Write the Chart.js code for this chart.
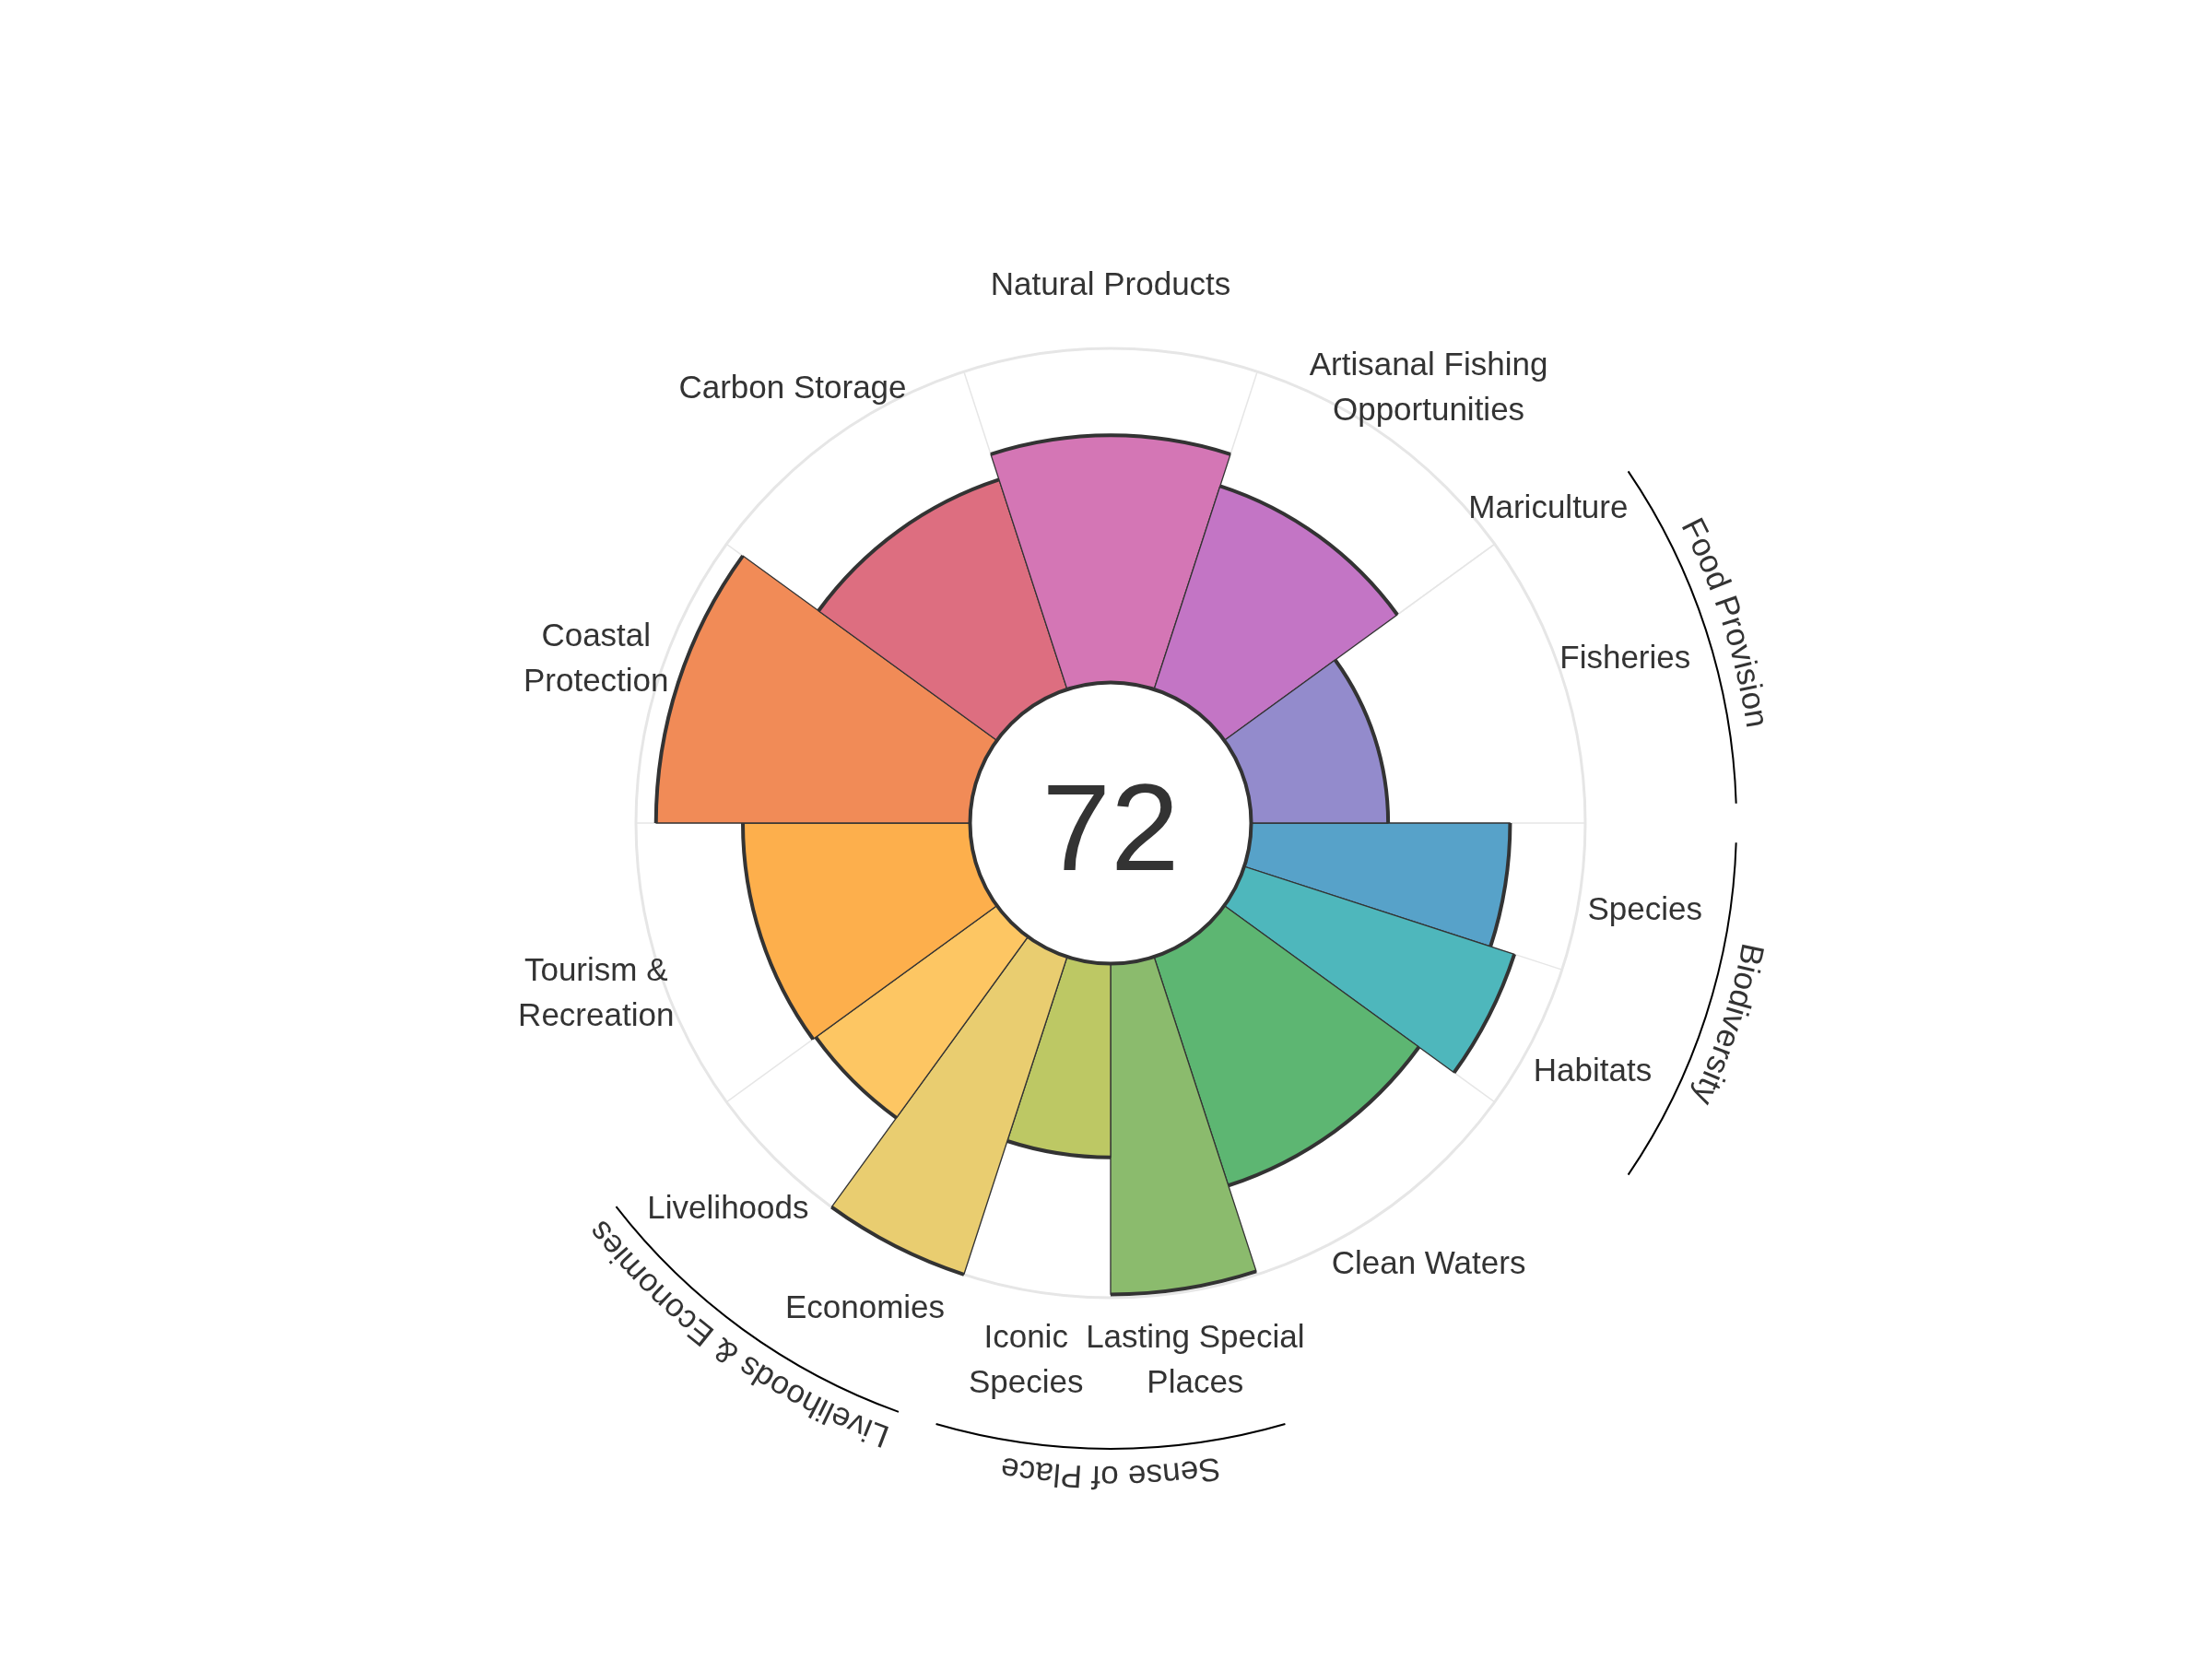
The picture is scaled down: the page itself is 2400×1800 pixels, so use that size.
<!DOCTYPE html>
<html>
<head>
<meta charset="utf-8">
<script src="https://cdn.jsdelivr.net/npm/chart.js@4.4.1/dist/chart.umd.min.js"></script>
<style>
html,body{margin:0;padding:0;background:#ffffff;}
canvas{display:block;}
</style>
</head>
<body>
<canvas id="c" width="2400" height="1800"></canvas>
<script>
// ---- data (counter-clockwise from east, as in the reference) ----
const goals = ['Fisheries','Mariculture','Artisanal Fishing Opportunities','Natural Products','Carbon Storage','Coastal Protection','Tourism & Recreation','Livelihoods','Economies','Iconic Species','Lasting Special Places','Clean Waters','Habitats','Species'];
const goalLabels = [['Fisheries'],['Mariculture'],['Artisanal Fishing','Opportunities'],['Natural Products'],['Carbon Storage'],['Coastal','Protection'],['Tourism &','Recreation'],['Livelihoods'],['Economies'],['Iconic','Species'],['Lasting Special','Places'],['Clean Waters'],['Habitats'],['Species']];
const scores = [41, 0, 64, 74, 66, 94, 68, 67, 100, 58, 99, 72, 85, 77.5];
const weights = [36, 0, 36, 36, 36, 36, 36, 18, 18, 18, 18, 36, 18, 18]; // petal widths in degrees
const colors = ['#938bcc','#a184c6','#c375c5','#d476b5','#dd6e80','#f18b57','#fdaf4c','#fdc663','#e9cd70','#bdc864','#8bbb6d','#5db672','#4eb7bc','#57a2c9'];
const groupNames = ['Food Provision','Livelihoods & Economies','Sense of Place','Biodiversity'];
const groupMembers = [['Fisheries','Mariculture'],['Livelihoods','Economies'],['Iconic Species','Lasting Special Places'],['Habitats','Species']];
const overallScore = 72;
const axisMin = -42.07; // leaves the central hole
const axisMax = 100;

// Chart.js polar area draws clockwise, so reverse the order
const order = goals.map((g, i) => i).reverse();
const rLabels = order.map(i => goals[i]);
const rScores = order.map(i => scores[i]);
const rWeights = order.map(i => weights[i]);
const rColors = order.map(i => colors[i]);

const FONT = '"Liberation Sans", Arial, Helvetica, sans-serif';
const TEXT = '#333333';

function curvedText(ctx, text, cx, cy, r, mid) {
  const W = ctx.measureText(text).width;
  let t = mid - (W / r) / 2;
  for (const ch of text) {
    const w = ctx.measureText(ch).width;
    const a = t + (w / 2) / r;
    ctx.save();
    ctx.translate(cx + r * Math.cos(a), cy + r * Math.sin(a));
    ctx.rotate(a + Math.PI / 2);
    ctx.fillText(ch, 0, 0);
    ctx.restore();
    t += w / r;
  }
}

const flowerPlugin = {
  id: 'flower',
  beforeDatasetsDraw(chart) {
    const s = chart.scales.r, ctx = chart.ctx;
    const arcs = chart.getDatasetMeta(0).data;
    ctx.save();
    ctx.strokeStyle = '#e6e6e6';
    ctx.lineWidth = 1.5;
    arcs.forEach(a => {
      ctx.beginPath();
      ctx.moveTo(s.xCenter, s.yCenter);
      ctx.lineTo(s.xCenter + s.drawingArea * Math.cos(a.startAngle), s.yCenter + s.drawingArea * Math.sin(a.startAngle));
      ctx.stroke();
    });
    ctx.restore();
  },
  afterDatasetsDraw(chart) {
    const s = chart.scales.r, ctx = chart.ctx;
    const cx = s.xCenter, cy = s.yCenter, R = s.drawingArea;
    const arcs = chart.getDatasetMeta(0).data;
    ctx.save();
    // thick outer edge of each petal
    ctx.strokeStyle = '#333333';
    ctx.lineWidth = 4;
    ctx.lineCap = 'butt';
    arcs.forEach(a => {
      if (a.endAngle - a.startAngle < 1e-4) return;
      ctx.beginPath();
      ctx.arc(a.x, a.y, a.outerRadius, a.startAngle, a.endAngle);
      ctx.stroke();
    });
    // central hole with score
    const hole = s.getDistanceFromCenterForValue(0);
    ctx.beginPath();
    ctx.arc(cx, cy, hole, 0, Math.PI * 2);
    ctx.fillStyle = '#ffffff';
    ctx.fill();
    ctx.lineWidth = 4;
    ctx.strokeStyle = '#333333';
    ctx.stroke();
    ctx.fillStyle = TEXT;
    ctx.font = '134px ' + FONT;
    ctx.textAlign = 'center';
    ctx.textBaseline = 'alphabetic';
    ctx.fillText(String(overallScore), cx, cy + 51);

    // goal labels
    ctx.font = '35px ' + FONT;
    ctx.textBaseline = 'middle';
    const lr = R + 72, lh = 49;
    arcs.forEach((a, k) => {
      const lines = goalLabels[order[k]];
      const mid = (a.startAngle + a.endAngle) / 2;
      const px = cx + lr * Math.cos(mid), py = cy + lr * Math.sin(mid) + 4;
      lines.forEach((ln, j) => {
        ctx.fillText(ln, px, py + (j - (lines.length - 1) / 2) * lh);
      });
    });

    // group arcs and curved group names
    const pad = 1.8 * Math.PI / 180;
    groupNames.forEach((name, g) => {
      let gs = Infinity, ge = -Infinity;
      groupMembers[g].forEach(m => {
        const a = arcs[rLabels.indexOf(m)];
        gs = Math.min(gs, a.startAngle);
        ge = Math.max(ge, a.endAngle);
      });
      ctx.beginPath();
      ctx.arc(cx, cy, R + 164, gs + pad, ge - pad);
      ctx.strokeStyle = '#000000';
      ctx.lineWidth = 2;
      ctx.stroke();
      ctx.fillStyle = TEXT;
      ctx.font = '35px ' + FONT;
      ctx.textAlign = 'center';
      ctx.textBaseline = 'alphabetic';
      curvedText(ctx, name, cx, cy, R + 183, (gs + ge) / 2);
    });
    ctx.restore();
  }
};

new Chart(document.getElementById('c'), {
  type: 'polarArea',
  data: {
    labels: rLabels,
    datasets: [{
      data: rScores,
      backgroundColor: rColors,
      borderColor: '#333333',
      borderWidth: 1.3,
      angle: (c) => rWeights[c.dataIndex] || 1e-6
    }]
  },
  options: {
    responsive: false,
    devicePixelRatio: 1,
    animation: false,
    events: [],
    layout: { padding: { top: 378, bottom: 392, left: 690, right: 680 } },
    plugins: { legend: { display: false }, tooltip: { enabled: false } },
    scales: {
      r: {
        min: axisMin,
        max: axisMax,
        startAngle: 90,
        ticks: { display: false },
        afterBuildTicks: (sc) => { sc.ticks = [{ value: axisMin }, { value: axisMax }]; },
        grid: { display: true, circular: true, color: '#e6e6e6', lineWidth: 3 },
        angleLines: { display: false },
        pointLabels: { display: false }
      }
    }
  },
  plugins: [flowerPlugin]
});
</script>
</body>
</html>
